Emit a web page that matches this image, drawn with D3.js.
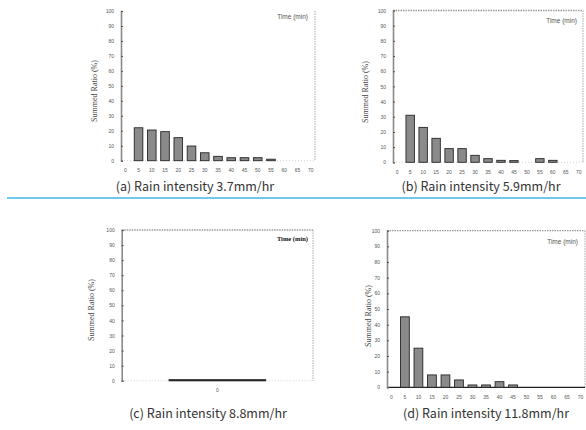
<!DOCTYPE html>
<html>
<head>
	<meta charset="UTF-8" />
	<title>summed ratio by time</title>
	<script src="https://d3js.org/d3.v7.min.js"></script>
	<style type="text/css">
		body{margin:0; background:#fff;}
		.bar{fill:#8a8a8a; stroke:#262626; stroke-width:0.9;}
		.tick text{font-family:"Liberation Sans", sans-serif; font-size:5px; fill:#555;}
		.caption{font-family:"Noto Sans CJK KR", "Noto Sans", sans-serif; font-size:12.5px; fill:#333; font-weight:400;}
		.ytitle{font-family:"Liberation Serif", serif; font-size:8px; fill:#444;}
		.tlabel{font-family:"Liberation Sans", sans-serif; font-size:6.5px; fill:#555;}
	</style>
</head>
<body>
	<svg id="chart" width="586" height="430"></svg>

	<script type="text/javascript">
	// data
	var timeBins = ["0","5","10","15","20","25","30","35","40","45","50","55","60","65","70"]
	var ratioA = [0, 22, 20.5, 19.4, 15.4, 9.8, 5.3, 2.9, 2, 2, 2, 1, 0, 0, 0]
	var ratioB = [0, 31, 23, 15.8, 9, 9, 4.6, 2.4, 1.3, 1.1, 0, 2.4, 1.3, 0, 0]
	var binsC = ["0"]
	var ratioC = [0.6]
	var ratioD = [0, 45, 25, 7.9, 7.9, 4.7, 1.5, 1.5, 3.6, 1.5, 0, 0, 0, 0, 0]
	var yTicks = [0, 10, 20, 30, 40, 50, 60, 70, 80, 90, 100]
	var captions = ["(a) Rain intensity 3.7mm/hr", "(b) Rain intensity 5.9mm/hr",
	                "(c) Rain intensity 8.8mm/hr", "(d) Rain intensity 11.8mm/hr"]
	var yTitle = "Summed Ratio (%)"
	var timeTitle = "Time (min)"

	var svg = d3.select("#chart")

	// panel layout
	var panels = [
		{cats: timeBins, vals: ratioA, x0: 121, x1: 315, y0: 11, y1: 160.7, pad: 0.35, padOut: 0,
		 titleX: 97, titleY: 91, tx: 308, ty: 19, cx: 195, cy: 191, box: false, bottomSolid: false},
		{cats: timeBins, vals: ratioB, x0: 393, x1: 583, y0: 10.5, y1: 162.3, pad: 0.35, padOut: 0,
		 titleX: 368, titleY: 92, tx: 577, ty: 23, cx: 481, cy: 191, box: true, bottomSolid: false},
		{cats: binsC, vals: ratioC, x0: 121.7, x1: 313, y0: 230, y1: 380.7, pad: 0.33, padOut: 0.33,
		 titleX: 94, titleY: 310, tx: 308, ty: 241, cx: 208, cy: 418, box: true, bottomSolid: false, bold: true},
		{cats: timeBins, vals: ratioD, x0: 387, x1: 585, y0: 230.7, y1: 387.3, pad: 0.35, padOut: 0,
		 titleX: 371, titleY: 316, tx: 578, ty: 244, cx: 486, cy: 418, box: true, bottomSolid: true}
	]

	panels.forEach((p, i) => drawPanel(p, i))

	function drawPanel(p, i){
		var xScale = d3.scaleBand().domain(p.cats).range([p.x0, p.x1])
			.paddingInner(p.pad).paddingOuter(p.padOut)
		var yScale = d3.scaleLinear().domain([0, 100]).range([p.y1, p.y0])
		var g = svg.append("g")

		// frame: top / right dotted gray
		if (p.box){
			g.append("line").attr("x1", p.x0).attr("x2", p.x1).attr("y1", p.y0).attr("y2", p.y0)
				.attr("stroke", "#9a9a9a").attr("stroke-width", 1.3).attr("stroke-dasharray", "1.5,1")
		}
		g.append("line").attr("x1", p.x1).attr("x2", p.x1).attr("y1", p.y0).attr("y2", p.y1)
			.attr("stroke", "#aaa").attr("stroke-width", 1).attr("stroke-dasharray", "1.5,1")
		g.append("line").attr("x1", p.x0).attr("x2", p.x1).attr("y1", p.y1).attr("y2", p.y1)
			.attr("stroke", p.bottomSolid ? "#222" : "#c4c4c4")
			.attr("stroke-width", p.bottomSolid ? 1.2 : 0.8)
			.attr("stroke-dasharray", p.bottomSolid ? null : "1,2")

		// bars
		g.selectAll(".bar")
			.data(p.cats.map((c, k) => ({cat: c, val: p.vals[k]})).filter(d => d.val > 0))
			.enter()
			.append("rect")
			.attr("class", "bar")
			.attr("x", d => xScale(d.cat))
			.attr("y", d => yScale(d.val))
			.attr("width", xScale.bandwidth())
			.attr("height", d => yScale(0) - yScale(d.val))
			.style("fill", i == 2 ? "#111" : null)
			.style("stroke-width", i == 2 ? 1.2 : null)

		// y axis
		var yAxis = g.append("g")
			.attr("transform", "translate(" + p.x0 + ",0)")
			.call(d3.axisLeft(yScale).tickValues(yTicks).tickSize(-2).tickPadding(7))
		yAxis.select(".domain").attr("stroke", "#8a8a8a").attr("stroke-width", 1.6)
		yAxis.selectAll(".tick line").attr("stroke", "#555")

		// x axis labels
		var xAxis = g.append("g")
			.attr("transform", "translate(0," + p.y1 + ")")
			.call(d3.axisBottom(xScale).tickSize(0).tickPadding(8))
		xAxis.select(".domain").remove()

		// titles
		g.append("text").attr("class", "ytitle")
			.attr("transform", "translate(" + p.titleX + "," + p.titleY + ") rotate(-90)")
			.attr("text-anchor", "middle")
			.text(yTitle)
		g.append("text").attr("class", "tlabel")
			.attr("x", p.tx).attr("y", p.ty)
			.attr("text-anchor", "end")
			.style("font-weight", p.bold ? "bold" : null)
			.style("fill", p.bold ? "#111" : null)
			.style("font-family", p.bold ? "Liberation Serif, serif" : null)
			.text(timeTitle)

		svg.append("text").attr("class", "caption")
			.attr("x", p.cx).attr("y", p.cy)
			.attr("text-anchor", "middle")
			.text(captions[i])
	}

	// separator
	svg.append("line").attr("x1", 7).attr("x2", 586).attr("y1", 198).attr("y2", 198)
		.attr("stroke", "#3fb6e8").attr("stroke-width", 1.5)
	</script>
</body>
</html>
